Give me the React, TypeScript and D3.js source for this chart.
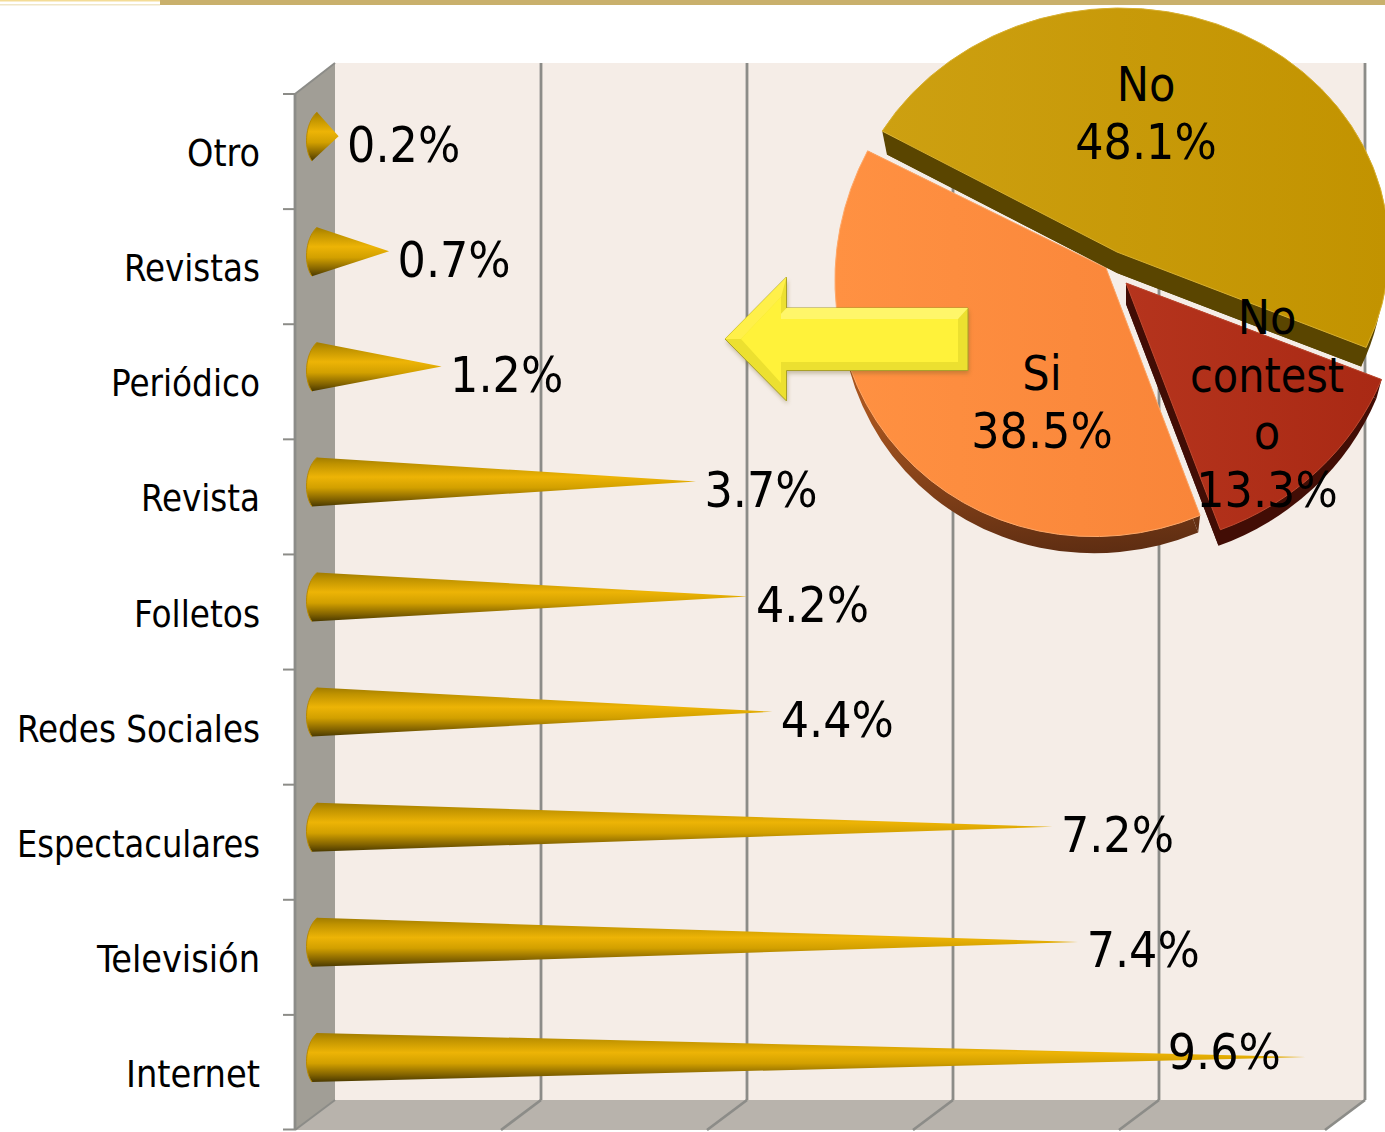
import React from "react";
import * as d3 from "d3";

const categories = ["Otro", "Revistas", "Periódico", "Revista", "Folletos", "Redes Sociales", "Espectaculares", "Televisión", "Internet"];
const shares = [0.2, 0.69, 1.2, 3.67, 4.17, 4.41, 7.13, 7.38, 9.59];
const shareLabels = ["0.2%", "0.7%", "1.2%", "3.7%", "4.2%", "4.4%", "7.2%", "7.4%", "9.6%"];
const ticks = [0, 2, 4, 6, 8, 10];
const pieNames = ["No", "No contesto", "Si"];
const pieShares = [48.1, 13.3, 38.5];

const W = 1385, H = 1132;
const FONT = "'DejaVu Sans Condensed','DejaVu Sans',sans-serif";
const depthX = 40, depthY = -30;
const front = { left: 295, right: 1325, top: 94, bottom: 1130 };
const x = d3.scaleLinear().domain([0, 10]).range([front.left, front.right]);
const y = d3.scaleBand<string>().domain(categories).range([front.top, front.bottom]);
const GRID = "#8c8c88";
const categoryWidths: Record<string, number> = {
  "Otro": 73, "Revistas": 136, "Periódico": 149, "Revista": 119, "Folletos": 126,
  "Redes Sociales": 243, "Espectaculares": 243, "Televisión": 163, "Internet": 134,
};

const sliceGeom: Record<string, any> = {
  "No": { m: [272, 0, -3, 244], c: [1117, 252], side: { s: 0.98, dy: 21 }, grad: "gNo", sideFill: "#5a4500", edge: "#d8b030" },
  "No contesto": { m: [275.7, -7.2, 4.7, 263.5], c: [1126, 283], side: { s: 0.98, dy: 21 }, grad: "gRed", sideFill: "#420d05", edge: "#c04a30" },
  "Si": { m: [271, -18, 6, 268], c: [1106, 268], side: { s: 0.98, dy: 22 }, grad: "gSi", sideFill: "url(#gSiSide)", edge: "#ffa868" },
};
const pieLabelLines: Record<string, { cx: number; y0: number; lines: string[] }> = {
  "No": { cx: 1146, y0: 101, lines: ["No"] },
  "No contesto": { cx: 1267, y0: 334, lines: ["No", "contest", "o"] },
  "Si": { cx: 1042, y0: 390, lines: ["Si"] },
};

function Cone({ cat, v }: { cat: string; v: number }) {
  const cy = (y(cat) as number) + y.bandwidth() / 2 - 15;
  const tip = x(v) + 23;
  const d = d3.path();
  d.moveTo(317, cy - 24.5);
  d.lineTo(tip, cy - 0.4);
  d.lineTo(312, cy + 24.5);
  d.bezierCurveTo(304, cy + 14, 304, cy - 12, 317, cy - 24.5);
  d.closePath();
  return (
    <g>
      <path d={d.toString()} fill="url(#gCone)" />
      <path d={`M317 ${cy - 24.5} C304 ${cy - 12} 304 ${cy + 14} 312 ${cy + 24.5}`} fill="none" stroke="#b98a00" strokeWidth={1} />
    </g>
  );
}

function Arrow() {
  const outer = "M725 339 L786.5 277 L786.5 308 L968 308 L968 370.5 L786.5 370.5 L786.5 401 Z";
  const inner = "M741 339 L781 297 L781 319 L958 319 L958 362 L781 362 L781 383 Z";
  return (
    <g>
      <path d={outer} fill="#6b5a20" opacity={0.35} transform="translate(1,3)" filter="url(#blur)" />
      <path d={outer} fill="#ece030" stroke="#a9a028" strokeWidth={1} />
      <path d="M725 339 L786.5 277 L781 297 L741 339 Z" fill="#fff04a" />
      <path d="M786.5 308 L968 308 L958 319 L776 319 Z" fill="#fff66a" />
      <path d={inner} fill="#fff23a" />
    </g>
  );
}

function Pie() {
  const arcs = d3.pie<number>().sort(null).startAngle((-60.3 * Math.PI) / 180).endAngle(((360 - 60.3) * Math.PI) / 180)(pieShares);
  const arc = d3.arc<any>().innerRadius(0).outerRadius(1000);
  const mat = (g: any, s: number, dy: number) =>
    `matrix(${(g.m[0] * s) / 1000} ${(g.m[1] * s) / 1000} ${(g.m[2] * s) / 1000} ${(g.m[3] * s) / 1000} ${g.c[0]} ${g.c[1] + dy})`;
  const project = (g: any, s: number, dy: number, ang: number): [number, number] => {
    const ux = Math.sin(ang), uy = -Math.cos(ang);
    return [g.c[0] + s * (g.m[0] * ux + g.m[2] * uy), g.c[1] + dy + s * (g.m[1] * ux + g.m[3] * uy)];
  };
  return (
    <g>
      {[2, 0, 1].map((i) => {
        const name = pieNames[i];
        const g = sliceGeom[name];
        const p = arc(arcs[i]) as string;
        const { s, dy } = g.side;
        const wall = (ang: number) => {
          const a = project(g, 1, 0, ang), b = project(g, s, dy, ang);
          return `${g.c[0]},${g.c[1]} ${a[0]},${a[1]} ${b[0]},${b[1]} ${g.c[0]},${g.c[1] + dy}`;
        };
        return (
          <g key={name}>
            <path d={p} transform={mat(g, s, dy)} fill={g.sideFill} />
            <polygon points={wall(arcs[i].startAngle)} fill={g.sideFill} />
            <polygon points={wall(arcs[i].endAngle)} fill={g.sideFill} />
            <path d={p} transform={mat(g, 1, 0)} fill={`url(#${g.grad})`} stroke={g.edge} strokeWidth={1} vectorEffect="non-scaling-stroke" />
          </g>
        );
      })}
      <Arrow />
      {pieNames.map((name, i) => {
        const l = pieLabelLines[name];
        return (
          <g key={name} fontFamily={FONT} fill="#000" textAnchor="middle">
            {l.lines.map((t, k) => (
              <text key={k} x={l.cx} y={l.y0 + k * 57.7} fontSize={48} {...(t === "contest" ? { textLength: 154, lengthAdjust: "spacingAndGlyphs" } : {})}>{t}</text>
            ))}
            <text x={l.cx} y={l.y0 + l.lines.length * 57.7} fontSize={49.5}>{`${pieShares[i].toFixed(1)}%`}</text>
          </g>
        );
      })}
    </g>
  );
}

export default function App() {
  const wallTop = front.top + depthY;
  const wallBottom = front.bottom + depthY;
  return (
    <svg width={W} height={H} viewBox={`0 0 ${W} ${H}`} style={{ position: "absolute", left: 0, top: 0, display: "block" }}>
      <defs>
        <linearGradient id="gCone" x1="0" y1="0" x2="0" y2="1">
          <stop offset="0" stopColor="#a17c00" />
          <stop offset="0.14" stopColor="#c09300" />
          <stop offset="0.4" stopColor="#edb406" />
          <stop offset="0.62" stopColor="#d2a000" />
          <stop offset="0.85" stopColor="#846400" />
          <stop offset="1" stopColor="#4a3900" />
        </linearGradient>
        <linearGradient id="gNo" x1="0" y1="0" x2="1" y2="0">
          <stop offset="0" stopColor="#cda011" />
          <stop offset="1" stopColor="#c29300" />
        </linearGradient>
        <linearGradient id="gRed" x1="0" y1="0" x2="1" y2="0">
          <stop offset="0" stopColor="#b5341d" />
          <stop offset="1" stopColor="#a92914" />
        </linearGradient>
        <linearGradient id="gSi" x1="0" y1="0" x2="1" y2="0">
          <stop offset="0" stopColor="#ff9142" />
          <stop offset="1" stopColor="#f98539" />
        </linearGradient>
        <linearGradient id="gSiSide" x1="0" y1="0" x2="0" y2="1">
          <stop offset="0.6" stopColor="#a8551f" />
          <stop offset="1" stopColor="#5e2d12" />
        </linearGradient>
        <filter id="blur" x="-10%" y="-10%" width="120%" height="120%">
          <feGaussianBlur stdDeviation="2" />
        </filter>
      </defs>

      <rect x={0} y={0} width={W} height={H} fill="#fff" />
      <rect x={160} y={0} width={W - 160} height={5} fill="#c9b06c" />
      <rect x={0} y={0} width={160} height={1.5} fill="#f4dc95" />
      <rect x={0} y={4} width={160} height={1.5} fill="#efe6c8" />

      <rect x={front.left + depthX} y={wallTop - 1} width={front.right - front.left} height={wallBottom - wallTop + 1} fill="#f5ede7" />
      <polygon points={`${front.left},${front.top} ${front.left + depthX},${wallTop - 1} ${front.left + depthX},${wallBottom} ${front.left},${front.bottom}`} fill="#a19e96" />
      <polygon points={`${front.left},${front.bottom} ${front.left + depthX},${wallBottom} ${front.right + depthX},${wallBottom} ${front.right},${front.bottom}`} fill="#b8b3ac" />

      {ticks.map((t) => (
        <g key={t} stroke={GRID} strokeWidth={2.8} fill="none">
          {t > 0 && <line x1={x(t) + depthX} x2={x(t) + depthX} y1={wallTop - 1} y2={wallBottom} />}
          {t > 0 && <line x1={x(t) + depthX} x2={x(t)} y1={wallBottom} y2={front.bottom} />}
        </g>
      ))}
      <line x1={front.left} x2={front.left} y1={front.top} y2={front.bottom} stroke={GRID} strokeWidth={2.8} />
      <line x1={front.left} x2={front.left + depthX} y1={front.top} y2={wallTop - 1} stroke={GRID} strokeWidth={2} />
      <line x1={front.left} x2={front.left + depthX} y1={front.bottom} y2={wallBottom} stroke={GRID} strokeWidth={2} />
      {y.domain().map((c) => (
        <line key={c} x1={283} x2={front.left} y1={y(c)} y2={y(c)} stroke={GRID} strokeWidth={2} />
      ))}
      <line x1={283} x2={front.left} y1={front.bottom - 0.5} y2={front.bottom - 0.5} stroke={GRID} strokeWidth={2} />

      {categories.map((c, i) => (
        <Cone key={c} cat={c} v={shares[i]} />
      ))}

      {categories.map((c) => (
        <text key={c} x={260} y={(y(c) as number) + y.bandwidth() / 2 + 14.5} textAnchor="end" fontFamily={FONT} fontSize={38} fill="#000" textLength={categoryWidths[c]} lengthAdjust="spacingAndGlyphs">{c}</text>
      ))}
      {categories.map((c, i) => {
        const last = i === categories.length - 1;
        const cy = (y(c) as number) + y.bandwidth() / 2;
        return (
          <text key={c} x={x(shares[i]) + 23 + (last ? -138 : 8.5)} y={cy + (last ? -3 : 10)} fontFamily={FONT} fontSize={49.5} fill="#000">
            {shareLabels[i]}
          </text>
        );
      })}

      <Pie />
    </svg>
  );
}
